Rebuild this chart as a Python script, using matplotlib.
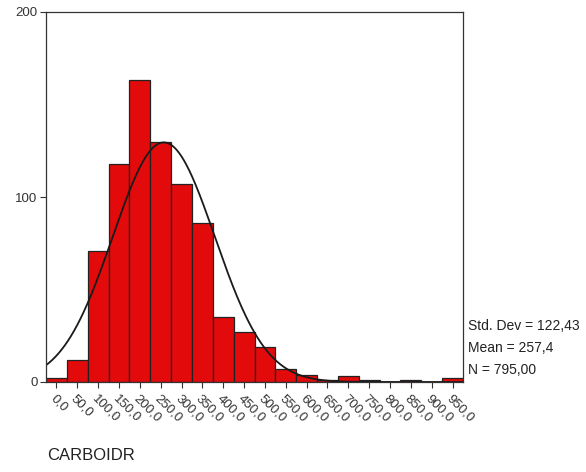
import numpy as np
import matplotlib
matplotlib.use("Agg")
import matplotlib.pyplot as plt
import matplotlib.transforms as mtransforms

plt.rcParams['font.family'] = ['Liberation Sans', 'DejaVu Sans']

bin_centers = [0, 50, 100, 150, 200, 250, 300, 350, 400, 450,
               500, 550, 600, 650, 700, 750, 800, 850, 900, 950]
counts = [2, 12, 71, 118, 163, 130, 107, 86, 35, 27,
          19, 7, 4, 1, 3, 1, 0, 1, 0, 2]
tick_labels = ["0,0", "50,0", "100,0", "150,0", "200,0", "250,0", "300,0",
               "350,0", "400,0", "450,0", "500,0", "550,0", "600,0", "650,0",
               "700,0", "750,0", "800,0", "850,0", "900,0", "950,0"]
std_dev = 122.43
mean = 257.4
n = 795
bin_width = 50
stats_text = ["Std. Dev = 122,43", "Mean = 257,4", "N = 795,00"]
xlabel = "CARBOIDR"

fig = plt.figure(figsize=(5.86, 4.72), dpi=100)
ax = fig.add_axes([46/586, 1-382/472, (463-46)/586, (382-12)/472])

ax.bar(bin_centers, counts, width=bin_width, color="#e20a0a",
       edgecolor="#222222", linewidth=0.9)

xs = np.linspace(-25, 975, 400)
ys = n * bin_width / (std_dev * np.sqrt(2*np.pi)) * np.exp(-0.5*((xs-mean)/std_dev)**2)
ax.plot(xs, ys, color="#1a1a1a", linewidth=1.3)

ax.set_xlim(-25, 975)
ax.set_ylim(0, 200)
ax.set_yticks([0, 100, 200])
ax.set_yticklabels(["0", "100", "200"], fontsize=9.5, color="#444444")
ax.set_xticks(bin_centers)
ax.set_xticklabels(tick_labels, rotation=-45, ha="left", va="top",
                   rotation_mode="anchor", fontsize=9.5, color="#333333")
offset = mtransforms.ScaledTranslation(5/100, -1/100, fig.dpi_scale_trans)
for lbl in ax.get_xticklabels():
    lbl.set_transform(lbl.get_transform() + offset)
ax.tick_params(axis="both", direction="out", length=4, width=0.8, colors="#333333")
ax.tick_params(axis="y", pad=2)
for s in ax.spines.values():
    s.set_color("#333333")
    s.set_linewidth(0.9)

for i, t in enumerate(stats_text):
    fig.text(468/586, 1-(326 + i*22)/472, t, fontsize=10, color="#222222",
             ha="left", va="center")

fig.text(47/586, 1-456/472, xlabel, fontsize=12, color="#222222",
         ha="left", va="center")

fig.savefig("out.png", dpi=100)
